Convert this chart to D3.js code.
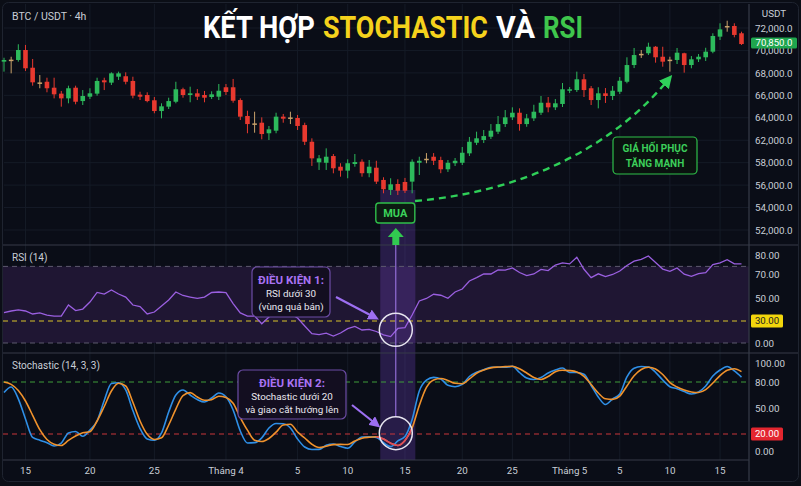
<!DOCTYPE html>
<html>
<head>
<meta charset="utf-8">
<script src="https://cdn.jsdelivr.net/npm/d3@7"></script>
<style>
  body { margin: 0; background: #0b0e16; }
  svg { display: block; font-family: Roboto, "Noto Sans", sans-serif; }
</style>
</head>
<body>
<div id="wrapper"></div>
<script>
// candles: [open, high, low, close]
const candles = [
  [69000,69350,68110,69150],[69060,69440,67960,69180],[69150,70550,69000,70040],[70040,70490,68170,68410],
  [68460,69240,66860,67160],[67150,67810,66630,67080],[67210,67570,66270,66630],[66680,67570,65730,66090],
  [66150,66390,64990,65730],[65730,66860,65290,66630],[66680,66860,65200,65430],[65490,66470,65140,65940],
  [65880,66630,65670,66180],[66150,67570,65970,67280],[67340,67570,66470,67160],[67130,68050,66920,67960],
  [67660,68110,67370,67960],[67700,68050,66980,67210],[67280,67660,65730,65970],[66060,66320,65580,65880],
  [66030,66270,65380,65490],[65560,65850,64400,64600],[64600,65290,63950,65020],[64990,65790,64780,65490],
  [65430,67210,65290,66540],[66540,66680,65790,66030],[66030,66770,65380,66180],[66180,66560,65580,65880],
  [66030,66390,65380,65790],[65850,66360,65670,66090],[65880,67010,65580,66410],[66720,67010,66030,66300],
  [66720,67460,65340,65520],[65580,65730,63800,64100],[64160,64630,62620,63440],[63500,64540,62670,63420],
  [63560,64040,62080,62550],[62620,63270,62020,62970],[62850,64450,62620,64100],[64100,64340,63560,63920],
  [64030,64540,63440,63960],[63980,64250,62910,63270],[63350,63560,61140,61730],[61730,62170,57710,58770],
  [58060,59360,57350,58770],[57990,60550,57350,59060],[59180,59540,57050,57500],[57640,57950,56750,57290],
  [57290,58590,56610,57950],[57880,59540,57640,58110],[58170,58590,56750,57060],[57060,58470,56700,57640],
  [57550,58340,56100,56310],[56460,56700,55270,55630],[55570,56610,55120,56070],[56100,56520,55120,55500],
  [56280,56640,55300,55500],[56310,58590,55270,58170],[57990,59060,56900,58340],[58600,59710,57950,58700],
  [59060,59710,57790,58340],[58470,59060,57060,57410],[57410,58470,57170,57990],[57950,58830,57700,58340],
  [57990,60790,57790,59770],[59660,62290,59180,61730],[61550,62760,61140,62170],[62020,62910,61500,62370],
  [62310,63440,62110,62850],[62760,64160,62550,63440],[63440,64690,63180,64040],[64040,64930,63800,64450],
  [64450,64840,62850,63440],[63440,64340,63200,63950],[63950,65160,63710,64540],[64450,65940,64250,65340],
  [65340,65850,64490,64930],[64930,65670,64690,65290],[65230,67100,64960,66540],[66410,66740,66210,66540],
  [66470,68110,66300,67430],[67430,67900,65850,66470],[66630,66830,65140,65580],[65580,66720,64840,66180],
  [66180,66650,65320,65940],[65940,66830,65580,66410],[66320,67630,66120,67300],[67210,69390,67070,68700],
  [68700,70220,68430,69590],[69590,70040,69330,69700],[69750,70690,69590,70330],[70330,70390,68910,69390],
  [69440,70330,68550,69000],[69100,69440,68110,69180],[69150,70220,68790,69800],[69750,69800,68020,68700],
  [68700,69500,68410,69210],[69210,69680,68970,69440],[69390,70240,69060,69890],[69890,71530,69750,71290],
  [71230,72420,70930,71880],[72060,72650,71670,72180],[72180,72420,71170,71380],[71530,71670,70490,70570]
];

const rsiValues = [
  37.2,38.7,39.6,38.7,36.1,37.0,35.2,34.3,34.3,43.9,39.1,40.4,46.5,54.6,53.3,56.7,
  53.3,50.8,43.9,42.6,36.1,37.8,43.0,48.3,55.0,52.1,50.8,49.6,50.8,54.6,55.0,54.4,
  45.2,37.0,34.3,34.3,26.2,33.5,36.1,37.0,36.1,32.6,23.2,12.7,11.3,13.4,9.5,13.6,
  19.6,22.5,17.7,18.7,15.7,11.2,8.7,19.8,21.1,35.2,47.4,49.6,53.1,52.3,49.7,55.0,
  57.5,64.2,67.0,70.0,70.0,72.2,72.0,73.2,70.8,68.7,70.0,72.4,71.8,74.7,75.8,75.3,
  78.8,72.5,67.0,70.1,67.8,69.6,71.6,74.5,76.8,77.7,79.5,76.1,72.6,71.4,73.2,69.8,
  68.0,70.2,70.7,75.0,75.9,77.5,75.3,75.3
];

const stochK = [
  67.9,74.2,60.6,37.3,15.9,12.7,9.8,5.9,9.4,21.2,22.9,17.3,24.6,35.0,58.7,78.3,
  79.2,70.8,47.1,26.3,14.1,12.6,21.2,45.4,65.0,70.8,65.0,59.8,56.9,61.5,67.3,63.0,
  47.7,23.5,9.4,9.8,15.5,26.9,32.1,31.8,26.9,14.1,4.7,1.8,1.9,6.7,8.2,5.3,
  3.2,10.6,16.5,16.8,16.0,9.8,5.1,11.8,17.1,36.7,69.6,81.9,84.9,83.2,76.2,74.6,
  77.2,85.8,90.3,92.9,95.5,95.5,95.5,96.4,90.0,84.2,82.6,84.7,89.5,92.6,94.7,90.0,
  90.0,88.2,76.0,62.7,54.0,60.4,66.2,85.3,94.4,96.3,95.8,90.2,82.1,74.6,72.3,68.9,
  66.2,68.5,75.4,86.3,92.6,96.3,91.6,85.1
];

const stochD = [
  80.0,77.3,70.2,58.1,41.6,25.0,13.5,8.0,6.5,12.5,17.6,21.4,22.7,35.0,51.7,69.6,
  78.5,75.4,56.6,35.0,19.6,13.6,15.5,30.4,48.8,64.4,67.7,62.7,59.0,59.6,63.6,62.1,
  55.5,39.0,24.4,12.7,11.2,14.7,22.1,30.4,31.2,22.3,15.3,7.9,4.1,5.6,7.5,7.8,
  7.6,11.8,15.1,16.2,16.7,14.1,9.2,6.5,12.4,26.9,52.9,73.7,82.1,83.7,81.6,78.5,
  78.0,83.2,89.2,92.6,94.9,95.8,96.2,96.6,93.9,89.5,84.7,82.6,85.8,90.9,92.4,92.0,
  90.6,86.0,77.1,67.3,60.6,60.0,63.8,75.4,86.5,93.1,95.6,93.7,87.9,79.3,74.2,70.8,
  68.5,67.9,71.2,78.8,86.7,92.3,94.0,90.9
];

const priceTicks = [72000, 70000, 68000, 66000, 64000, 62000, 58000, 56000, 54000, 52000];
const rsiTicks = [80, 70, 50, 30, 0];
const stochTicks = [100, 80, 50, 20, 0];
const timeTickIndex = [3, 12, 21, 31, 41, 48, 56, 64, 71, 79, 86, 93, 100];
const timeTickLabels = ["15", "20", "25", "Tháng 4", "5", "10", "15", "20", "25", "Tháng 5", "5", "10", "15"];

const titleWords = ["KẾT HỢP", "STOCHASTIC", "VÀ", "RSI"];
const titleColors = ["#ffffff", "#f5d21c", "#ffffff", "#3fc64c"];

const lastPriceLabel = "70,850.0";
const rsiUpperLevel = 74;
const rsiLowerLevel = 30;
const stochUpperLevel = 80;
const stochLowerLevel = 20;
const buyIndex = 55;

const dimensions = {
  width: 801,
  height: 486,
  plotRight: 749,
  priceTop: 28, priceBottom: 230,
  rsiPanel: [245, 353],
  stochPanel: [353, 460],
};

const svg = d3.select("#wrapper").append("svg")
  .attr("width", dimensions.width)
  .attr("height", dimensions.height);

const defs = svg.append("defs");
function marker(id, color, size) {
  defs.append("marker")
    .attr("id", id)
    .attr("viewBox", "0 0 10 10")
    .attr("refX", 5).attr("refY", 5)
    .attr("markerWidth", size).attr("markerHeight", size)
    .attr("orient", "auto-start-reverse")
    .attr("markerUnits", "userSpaceOnUse")
    .append("path")
    .attr("d", "M0,0 L10,5 L0,10 z")
    .attr("fill", color);
}
marker("arrowPurple", "#9d6ff2", 11);
marker("arrowGreen", "#2fd05a", 13);

// background + frame
svg.append("rect").attr("width", dimensions.width).attr("height", dimensions.height).attr("fill", "#0b0e16");
svg.append("rect")
  .attr("x", 2.5).attr("y", 2.5).attr("width", 796).attr("height", 479).attr("rx", 6)
  .attr("fill", "#0a0d17").attr("stroke", "#1f2430");

// scales
const x = d3.scaleLinear().domain([0, candles.length - 1]).range([4, 741.5]);
const priceStep = (dimensions.priceBottom - dimensions.priceTop) / (priceTicks.length - 1);
const yPrice = d3.scaleLinear()
  .domain(priceTicks)
  .range(priceTicks.map((d, i) => dimensions.priceTop + i * priceStep));
const yRsi = d3.scaleLinear().domain(rsiTicks).range([255, 274, 298, 321, 343]);
const yStoch = d3.scaleLinear().domain(stochTicks).range([363, 382, 408, 434, 451]);

// grid
const grid = svg.append("g").attr("stroke", "#151b27").attr("stroke-width", 1);
grid.selectAll("line.v").data(timeTickIndex).join("line")
  .attr("x1", d => x(d)).attr("x2", d => x(d))
  .attr("y1", 4).attr("y2", dimensions.stochPanel[1]);
grid.selectAll("line.h").data(priceTicks).join("line")
  .attr("x1", 4).attr("x2", dimensions.plotRight)
  .attr("y1", d => yPrice(d)).attr("y2", d => yPrice(d));

// RSI band
svg.append("rect")
  .attr("x", 3).attr("width", dimensions.plotRight - 3)
  .attr("y", yRsi(rsiUpperLevel)).attr("height", yRsi(0) - yRsi(rsiUpperLevel))
  .attr("fill", "#1f1633");

// buy highlight band
svg.append("rect")
  .attr("x", x(buyIndex - 2.45)).attr("width", x(buyIndex + 2.45) - x(buyIndex - 2.45))
  .attr("y", 190).attr("height", dimensions.stochPanel[1] - 190)
  .attr("fill", "#7a4bd6").attr("opacity", 0.26);

// panel separators
svg.append("g").attr("stroke", "#363b48").attr("stroke-width", 1.2)
  .selectAll("line").data([dimensions.rsiPanel[0], dimensions.stochPanel[0]]).join("line")
  .attr("x1", 3).attr("x2", 798).attr("y1", d => d).attr("y2", d => d);
svg.append("line").attr("x1", 3).attr("x2", dimensions.plotRight)
  .attr("y1", dimensions.stochPanel[1]).attr("y2", dimensions.stochPanel[1])
  .attr("stroke", "#363b48").attr("stroke-width", 1.2);
svg.append("line").attr("x1", dimensions.plotRight).attr("x2", dimensions.plotRight)
  .attr("y1", 4).attr("y2", 481).attr("stroke", "#363b48").attr("stroke-width", 1.2);

// level lines
function level(y, color) {
  svg.append("line")
    .attr("x1", 3).attr("x2", dimensions.plotRight).attr("y1", y).attr("y2", y)
    .attr("stroke", color).attr("stroke-width", 1).attr("stroke-dasharray", "5,4");
}
level(yRsi(rsiUpperLevel), "#5d5a6e");
level(yRsi(0), "#5d5a6e");
level(yRsi(rsiLowerLevel), "#d9c22b");
level(yStoch(stochUpperLevel), "#3f9d3a");
level(yStoch(stochLowerLevel), "#c8363a");

// candles
const upColor = "#2dba5c", downColor = "#e8392f", flatColor = "#c9a26a";
const candleColor = d => Math.abs(d[3] - d[0]) <= 120 ? flatColor : (d[3] > d[0] ? upColor : downColor);
const bodyWidth = 4.6;
const candleG = svg.append("g");
candleG.selectAll("line").data(candles).join("line")
  .attr("x1", (d, i) => x(i)).attr("x2", (d, i) => x(i))
  .attr("y1", d => yPrice(d[1])).attr("y2", d => yPrice(d[2]))
  .attr("stroke", candleColor).attr("stroke-width", 1);
candleG.selectAll("rect").data(candles).join("rect")
  .attr("x", (d, i) => x(i) - bodyWidth / 2)
  .attr("width", bodyWidth)
  .attr("y", d => yPrice(Math.max(d[0], d[3])))
  .attr("height", d => Math.max(1.5, Math.abs(yPrice(d[0]) - yPrice(d[3]))))
  .attr("fill", candleColor);

// RSI line
svg.append("path").datum(rsiValues)
  .attr("d", d3.line().x((d, i) => x(i)).y(d => yRsi(d)))
  .attr("fill", "none").attr("stroke", "#9a5fe0").attr("stroke-width", 1.3);

// Stochastic lines
const stochLine = d3.line().x((d, i) => x(i)).y(d => yStoch(d)).curve(d3.curveMonotoneX);
svg.append("path").datum(stochK)
  .attr("d", stochLine).attr("fill", "none").attr("stroke", "#2f8fe6").attr("stroke-width", 1.6);
svg.append("path").datum(stochD)
  .attr("d", stochLine).attr("fill", "none").attr("stroke", "#f0922c").attr("stroke-width", 1.6);
svg.append("path").datum(stochD.map((d, i) => [i, d]).filter(d => d[0] >= 52 && d[0] <= 57))
  .attr("d", d3.line().x(d => x(d[0])).y(d => yStoch(d[1])).curve(d3.curveMonotoneX))
  .attr("fill", "none").attr("stroke", "#e04a5e").attr("stroke-width", 1.6);

// right axes
const axisText = "#c9cdd6";
function styleAxis(g) {
  g.select(".domain").remove();
  g.selectAll("text").attr("fill", axisText).attr("font-size", 9.8).attr("font-family", "Roboto");
}
svg.append("g").attr("transform", `translate(${dimensions.plotRight},0)`)
  .call(d3.axisRight(yPrice).tickValues(priceTicks).tickFormat(d3.format(",.1f")).tickSize(0).tickPadding(6))
  .call(styleAxis);
svg.append("g").attr("transform", `translate(${dimensions.plotRight},0)`)
  .call(d3.axisRight(yRsi).tickValues(rsiTicks.filter(d => d !== rsiLowerLevel)).tickFormat(d3.format(".2f")).tickSize(0).tickPadding(6))
  .call(styleAxis);
svg.append("g").attr("transform", `translate(${dimensions.plotRight},0)`)
  .call(d3.axisRight(yStoch).tickValues(stochTicks.filter(d => d !== stochLowerLevel)).tickFormat(d3.format(".2f")).tickSize(0).tickPadding(6))
  .call(styleAxis);

svg.append("text").attr("x", 774).attr("y", 17).attr("text-anchor", "middle")
  .attr("fill", axisText).attr("font-size", 9.8).text("USDT");

function badge(y, label, fill, textColor, w, h) {
  svg.append("rect").attr("x", 751).attr("y", y - h / 2).attr("width", w).attr("height", h).attr("rx", 1.5).attr("fill", fill);
  svg.append("text").attr("x", 751 + w / 2).attr("y", y + 3.4).attr("text-anchor", "middle")
    .attr("fill", textColor).attr("font-size", 9.6).text(label);
}
badge(yPrice(candles[candles.length - 1][3]) - 1, lastPriceLabel, "#1fa64e", "#ffffff", 46, 11);
badge(yRsi(rsiLowerLevel), d3.format(".2f")(rsiLowerLevel), "#f2d60c", "#222222", 32, 13);
badge(yStoch(stochLowerLevel), d3.format(".2f")(stochLowerLevel), "#e3262f", "#ffffff", 32, 13);

// time axis
svg.append("g").selectAll("text").data(timeTickIndex).join("text")
  .attr("x", d => x(d)).attr("y", 474).attr("text-anchor", "middle")
  .attr("fill", axisText).attr("font-size", 9.8)
  .text((d, i) => timeTickLabels[i]);

// panel labels
svg.append("text").attr("x", 12).attr("y", 20).attr("fill", "#c9cdd6").attr("font-size", 10.5).text("BTC / USDT · 4h");
svg.append("text").attr("x", 12).attr("y", 261).attr("fill", "#c9cdd6").attr("font-size", 10).text("RSI (14)");
svg.append("text").attr("x", 12).attr("y", 369).attr("fill", "#c9cdd6").attr("font-size", 10).text("Stochastic (14, 3, 3)");

// title: each word squeezed horizontally to the width it has in the picture
const titleStarts = [203, 323, 496, 543];
const titleWidths = [112, 165, 39, 40];
svg.append("g").selectAll("text").data(titleWords).join("text")
  .attr("font-size", 31).attr("font-weight", 700)
  .attr("fill", (d, i) => titleColors[i])
  .text(d => d)
  .each(function (d, i) {
    const natural = this.getComputedTextLength();
    const k = titleWidths[i] / natural;
    d3.select(this).attr("transform", `translate(${titleStarts[i]},38) scale(${k},1)`);
  });

// buy marker
const bx = x(buyIndex);
svg.append("line").attr("x1", bx - 2).attr("x2", bx - 2).attr("y1", 244).attr("y2", 417)
  .attr("stroke", "#a67cf0").attr("stroke-width", 1);
svg.append("rect").attr("x", bx - 22).attr("y", 203).attr("width", 39).attr("height", 20).attr("rx", 3)
  .attr("fill", "#0c1a12").attr("stroke", "#2fbf4a").attr("stroke-width", 1.4);
svg.append("text").attr("x", bx - 2.5).attr("y", 217).attr("text-anchor", "middle")
  .attr("fill", "#3bd35a").attr("font-size", 11).attr("font-weight", 700).text("MUA");
svg.append("path")
  .attr("d", `M${bx - 2},228 L${bx + 6},237 L${bx + 1.5},237 L${bx + 1.5},245 L${bx - 5.5},245 L${bx - 5.5},237 L${bx - 10},237 Z`)
  .attr("fill", "#31c950");

// circles
svg.append("circle").attr("cx", bx - 2).attr("cy", yRsi(18)).attr("r", 16.5)
  .attr("fill", "none").attr("stroke", "#e6e4ef").attr("stroke-width", 1.5);
svg.append("circle").attr("cx", bx - 2).attr("cy", yStoch(21)).attr("r", 16.5)
  .attr("fill", "none").attr("stroke", "#e6e4ef").attr("stroke-width", 1.5);

// recovery curve
svg.append("path")
  .attr("d", "M415,201 C520,192 610,150 668,80")
  .attr("fill", "none").attr("stroke", "#2fcf58").attr("stroke-width", 2.4)
  .attr("stroke-dasharray", "7,5").attr("marker-end", "url(#arrowGreen)");

svg.append("rect").attr("x", 613).attr("y", 137).attr("width", 84).attr("height", 37).attr("rx", 4)
  .attr("fill", "#0a120f").attr("stroke", "#2fbf4a").attr("stroke-width", 1.2);
svg.append("text").attr("x", 655).attr("y", 152).attr("text-anchor", "middle")
  .attr("fill", "#3cce5a").attr("font-size", 10).attr("font-weight", 700).text("GIÁ HỐI PHỤC");
svg.append("text").attr("x", 655).attr("y", 167).attr("text-anchor", "middle")
  .attr("fill", "#3cce5a").attr("font-size", 10).attr("font-weight", 700).text("TĂNG MẠNH");

// condition boxes
function conditionBox(bxX, bxY, w, h, lines, arrow) {
  const g = svg.append("g");
  g.append("rect").attr("x", bxX).attr("y", bxY).attr("width", w).attr("height", h).attr("rx", 5)
    .attr("fill", "#130e20").attr("stroke", "#6d4da6").attr("stroke-width", 1.2);
  const cx = bxX + w / 2;
  g.append("text").attr("x", cx).attr("y", bxY + 17).attr("text-anchor", "middle")
    .attr("fill", "#a872f2").attr("font-size", 11.5).attr("font-weight", 700).text(lines[0]);
  g.append("text").attr("x", cx).attr("y", bxY + 30).attr("text-anchor", "middle")
    .attr("fill", "#e9e7ef").attr("font-size", 9.8).text(lines[1]);
  g.append("text").attr("x", cx).attr("y", bxY + 43).attr("text-anchor", "middle")
    .attr("fill", "#e9e7ef").attr("font-size", 9.8).text(lines[2]);
  g.append("line")
    .attr("x1", arrow[0]).attr("y1", arrow[1]).attr("x2", arrow[2]).attr("y2", arrow[3])
    .attr("stroke", "#9d6ff2").attr("stroke-width", 2.2).attr("marker-end", "url(#arrowPurple)");
}
conditionBox(252, 267, 78, 50, ["ĐIỀU KIỆN 1:", "RSI dưới 30", "(vùng quá bán)"], [336, 297, 374, 317]);
conditionBox(238, 370, 108, 49, ["ĐIỀU KIỆN 2:", "Stochastic dưới 20", "và giao cắt hướng lên"], [352, 405, 376, 424]);
</script>
</body>
</html>
